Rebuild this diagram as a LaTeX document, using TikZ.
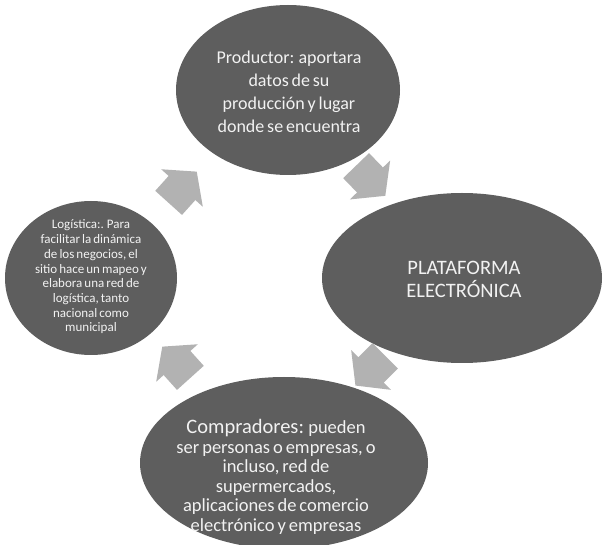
\documentclass[tikz,border=0pt]{standalone}
\usepackage{fontspec}
\setmainfont{Carlito}[WordSpace=0.7]
\usetikzlibrary{shapes.geometric}
\definecolor{bubblegray}{RGB}{94,94,94}
\definecolor{arrowgray}{RGB}{178,178,178}
\definecolor{textwhite}{RGB}{242,242,242}
\begin{document}
\begin{tikzpicture}[x=1pt,y=-1pt,
  bubble/.style={ellipse, fill=bubblegray, draw=none, inner sep=0pt},
  bubbletext/.style={text=textwhite, align=center, inner sep=0pt},
  cyclearrow/.pic={\fill[arrowgray] (-20,-18) -- (0,-18) -- (0,-28) -- (22,0) -- (0,28) -- (0,18) -- (-20,18) -- cycle;}]
\useasboundingbox (0,0) rectangle (603,545);
\fill[white] (0,0) rectangle (603,545);
% nodes
\node[bubble, minimum width=224pt, minimum height=170pt] (prod) at (288,90) {};
\node[bubble, minimum width=280pt, minimum height=170pt] (plat) at (462,278) {};
\node[bubble, minimum width=288pt, minimum height=172pt] (comp) at (284,463) {};
\node[bubble, minimum width=172pt, minimum height=154pt] (logi) at (91,278) {};
% texts
\node[bubbletext, font=\fontsize{18}{23}\selectfont] (prodtext) at (289,92)
  {Productor: aportara\\datos de su\\producción y lugar\\donde se encuentra};
\node[bubbletext, font=\fontsize{20.5}{23}\selectfont] (plattext) at (464,279)
  {PLATAFORMA\\ELECTRÓNICA};
\node[bubbletext, font=\fontsize{18.5}{19.5}\selectfont] (comptext) at (276,477)
  {{\fontsize{20.5}{20}\selectfont Compradores:} pueden\\ser personas o empresas, o\\incluso, red de\\supermercados,\\aplicaciones de comercio\\electrónico y empresas};
\node[bubbletext, font=\fontsize{13}{14.7}\selectfont] (logitext) at (91,277)
  {Logística:. Para\\facilitar la dinámica\\de los negocios, el\\sitio hace un mapeo y\\elabora una red de\\logística, tanto\\nacional como\\municipal};
% cycle arrows
\coordinate (a1) at (182,188);
\coordinate (a2) at (370,180);
\coordinate (a3) at (371,370);
\coordinate (a4) at (177,363);
\pic[rotate=48] at (a1) {cyclearrow};
\pic[rotate=-46] at (a2) {cyclearrow};
\pic[rotate=-135] at (a3) {cyclearrow};
\pic[rotate=132] at (a4) {cyclearrow};
\end{tikzpicture}
\end{document}
